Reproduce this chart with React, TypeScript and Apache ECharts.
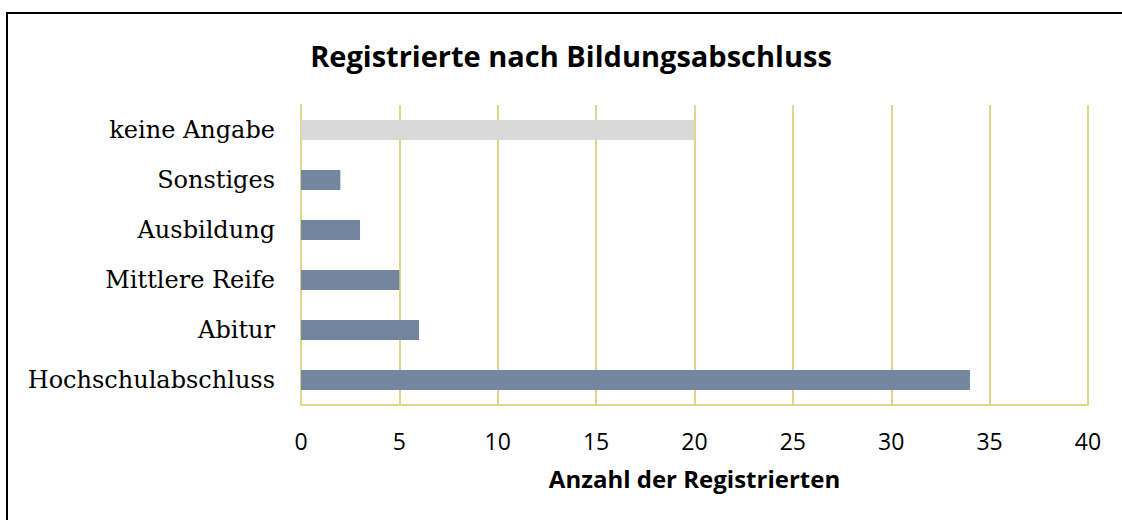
import React, { useEffect, useRef } from "react";
import * as echarts from "echarts";

const categories = [
  "Hochschulabschluss",
  "Abitur",
  "Mittlere Reife",
  "Ausbildung",
  "Sonstiges",
  "keine Angabe",
];
const values = [34, 6, 5, 3, 2, 20];
const barColors = ["#72879F", "#72879F", "#72879F", "#72879F", "#72879F", "#D9D9D9"];
const titleText = "Registrierte nach Bildungsabschluss";
const axisName = "Anzahl der Registrierten";

export default function App() {
  const ref = useRef<HTMLDivElement>(null);
  useEffect(() => {
    document.body.style.margin = "0";
    const chart = echarts.init(ref.current!, null, { renderer: "svg" });
    const gridColor = "#E0D68A";
    chart.setOption({
      animation: false,
      backgroundColor: "#ffffff",
      graphic: [
        {
          type: "line",
          shape: { x1: 6, y1: 13, x2: 1140, y2: 13 },
          style: { stroke: "#000000", lineWidth: 2 },
          silent: true,
        },
        {
          type: "line",
          shape: { x1: 7, y1: 12, x2: 7, y2: 540 },
          style: { stroke: "#000000", lineWidth: 2 },
          silent: true,
        },
      ],
      title: {
        text: titleText,
        left: 566,
        top: 36,
        textAlign: "center",
        textStyle: {
          fontFamily: "Open Sans",
          fontWeight: "bold",
          fontSize: 29,
          color: "#000000",
        },
      },
      grid: { left: 301, right: 34, top: 105, bottom: 115 },
      xAxis: {
        type: "value",
        min: 0,
        max: 40,
        interval: 5,
        name: axisName,
        nameLocation: "middle",
        nameGap: 61,
        nameTextStyle: {
          fontFamily: "Open Sans",
          fontWeight: "bold",
          fontSize: 24,
          color: "#000000",
        },
        axisLine: { show: true, lineStyle: { color: gridColor, width: 2 } },
        axisTick: { show: false },
        splitLine: { show: true, lineStyle: { color: gridColor, width: 2 } },
        axisLabel: {
          margin: 24,
          fontFamily: "Open Sans",
          fontSize: 23,
          color: "#000000",
        },
      },
      yAxis: {
        type: "category",
        data: categories,
        axisLine: { show: true, lineStyle: { color: gridColor, width: 2 } },
        axisTick: { show: false },
        axisLabel: {
          margin: 26,
          fontFamily: "DejaVu Serif",
          fontSize: 24,
          color: "#000000",
        },
      },
      series: [
        {
          type: "bar",
          barWidth: 20,
          data: values.map((v, i) => ({ value: v, itemStyle: { color: barColors[i] } })),
        },
      ],
    });
    return () => chart.dispose();
  }, []);
  return <div ref={ref} style={{ width: 1122, height: 520 }} />;
}
